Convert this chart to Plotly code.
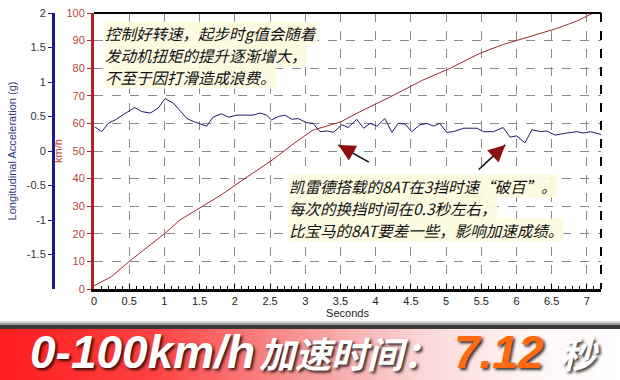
import plotly.graph_objects as go

# ---------------- data ----------------
time_speed = [0, 0.25, 0.5, 0.75, 1.0, 1.22, 1.5, 1.8, 2.14, 2.53, 2.8, 3.11, 3.3, 3.5,
              3.75, 4.2, 4.67, 5.06, 5.48, 5.8, 6.05, 6.3, 6.57, 6.85, 7.09]
speed_kmh = [1.2, 4.5, 10, 15, 20, 25, 29.5, 34, 40, 46.7, 52, 57.6, 59, 60.5,
             63.9, 69.5, 75.7, 80, 85.4, 88.5, 90.4, 92.3, 94.4, 97, 100]

time_g = [0.01, 0.11, 0.20, 0.30, 0.42, 0.58, 0.68, 0.80, 0.91, 1.01, 1.13, 1.32, 1.43,
          1.60, 1.69, 1.81, 1.91, 2.03, 2.26, 2.36, 2.45, 2.52, 2.62, 2.71, 2.81, 2.90,
          3.02, 3.11, 3.21, 3.31, 3.40, 3.52, 3.61, 3.73, 3.83, 3.92, 4.02, 4.13, 4.23,
          4.32, 4.42, 4.51, 4.63, 4.73, 4.82, 4.91, 5.01, 5.10, 5.25, 5.44, 5.53, 5.67,
          5.81, 5.91, 6.00, 6.12, 6.22, 6.34, 6.43, 6.55, 6.71, 6.86, 6.95, 7.05, 7.2]
accel_g = [0.35, 0.28, 0.40, 0.45, 0.53, 0.63, 0.57, 0.55, 0.62, 0.76, 0.69, 0.47, 0.42,
           0.36, 0.49, 0.54, 0.49, 0.52, 0.52, 0.55, 0.52, 0.45, 0.50, 0.52, 0.46, 0.47,
           0.41, 0.40, 0.28, 0.29, 0.27, 0.38, 0.34, 0.46, 0.33, 0.40, 0.36, 0.47, 0.27,
           0.40, 0.39, 0.28, 0.38, 0.40, 0.36, 0.40, 0.27, 0.28, 0.33, 0.33, 0.28, 0.28,
           0.34, 0.20, 0.22, 0.12, 0.31, 0.28, 0.29, 0.23, 0.26, 0.28, 0.26, 0.28, 0.24]

g_tickvals = [2, 1.5, 1, 0.5, 0, -0.5, -1, -1.5]
g_ticktext = ["2", "1.5", "1", "0.5", "0", "-0.5", "-1", "-1.5"]

note_top = ["控制好转速，起步时g值会随着", "发动机扭矩的提升逐渐增大，", "不至于因打滑造成浪费。"]
note_mid = ["凯雷德搭载的8AT在3挡时速“破百”。", "每次的换挡时间在0.3秒左右，",
            "比宝马的8AT要差一些，影响加速成绩。"]
banner_latin = "0-100km/h"
banner_cjk = "加速时间："
banner_value = "7.12"
banner_unit = "秒"

# ---------------- figure ----------------
W, H = 620, 380
def px(x):
    return x / W
def py(y):
    return 1 - y / H

fig = go.Figure()
fig.add_trace(go.Scatter(x=time_speed, y=speed_kmh, mode="lines",
                         line=dict(color="#9c2b2b", width=1), yaxis="y", hoverinfo="skip"))
fig.add_trace(go.Scatter(x=time_g, y=accel_g, mode="lines",
                         line=dict(color="#1c1c66", width=1), yaxis="y2", hoverinfo="skip"))

shapes = []
# banner gradient
stops = [(0.0, (255, 28, 28)), (0.25, (255, 66, 66)), (0.48, (246, 148, 148)),
         (0.68, (252, 214, 214)), (0.85, (255, 245, 245)), (1.0, (255, 255, 255))]
def col(t):
    for (a, ca), (b, cb) in zip(stops[:-1], stops[1:]):
        if a <= t <= b:
            f = (t - a) / (b - a)
            return "rgb(%d,%d,%d)" % tuple(round(ca[i] + (cb[i] - ca[i]) * f) for i in range(3))
    return "rgb(255,255,255)"
N = 124
for i in range(N):
    shapes.append(dict(type="rect", xref="paper", yref="paper", x0=i / N, x1=(i + 1) / N + 0.001,
                       y0=0, y1=py(329), fillcolor=col((i + 0.5) / N), line=dict(width=0)))
for y0, y1, c in [(321, 323, "#d8d8d8"), (323, 325, "#9a9a9a"), (325, 329, "#3a3a3a")]:
    shapes.append(dict(type="rect", xref="paper", yref="paper", x0=0, x1=1,
                       y0=py(y1), y1=py(y0), fillcolor=c, line=dict(width=0)))
# top and right border of plot
shapes.append(dict(type="line", xref="paper", yref="paper", x0=px(94), x1=px(601),
                   y0=py(13), y1=py(13), line=dict(color="black", width=2)))
shapes.append(dict(type="line", xref="paper", yref="paper", x0=px(601), x1=px(601),
                   y0=py(13), y1=py(289), line=dict(color="black", width=2, dash="dash")))

cjk = "Noto Sans CJK SC"
annotations = []
note_font = dict(family=cjk, size=15.5, color="#111111", style="italic")
note_bg = "rgba(253,251,224,0.92)"
for lines, x0, y0 in [(note_top, 104, 33), (note_mid, 288, 186)]:
    for k, line in enumerate(lines):
        annotations.append(dict(xref="paper", yref="paper", x=px(x0), y=py(y0 + k * 22),
                                xanchor="left", yanchor="middle", text=line, showarrow=False,
                                align="left", font=note_font, bgcolor=note_bg, borderpad=0))

shadow = "2px 2px 3px rgba(0,0,0,0.8)"
for txt, x0, size, color, fam in [
        (banner_latin, 28, 46, "white", "Liberation Sans"),
        (banner_cjk, 257, 36, "white", cjk),
        (banner_value, 452, 46, "#ff6a10", "Liberation Sans"),
        (banner_unit, 558, 36, "white", cjk)]:
    annotations.append(dict(xref="paper", yref="paper", x=px(x0), y=py(352),
                            xanchor="left", yanchor="middle", text=txt, showarrow=False,
                            font=dict(family=fam, size=size, color=color, weight="bold",
                                      style="italic", shadow=shadow)))

# arrows: black shaft + dark red head
for hx, hy, ax, ay in [(3.47, 52.2, 32, 18), (5.84, 52.2, -28, 26)]:
    annotations.append(dict(x=hx, y=hy, xref="x", yref="y", ax=ax, ay=ay, text="",
                            showarrow=True, arrowhead=0, arrowwidth=1.6, arrowcolor="#111111"))
    annotations.append(dict(x=hx, y=hy, xref="x", yref="y", ax=ax * 0.4, ay=ay * 0.4, text="",
                            showarrow=True, arrowhead=2, arrowsize=1.2, arrowwidth=2.8,
                            arrowcolor="#8b1010"))

tickfont = dict(family="Liberation Sans", size=11, color="#222222")
fig.update_layout(
    template="none", width=W, height=H, autosize=False,
    margin=dict(l=0, r=0, t=0, b=0),
    paper_bgcolor="white", plot_bgcolor="white", showlegend=False,
    font=dict(family="Liberation Sans", size=11, color="#222222"),
    xaxis=dict(domain=[px(94), px(601)], range=[0, 7.2], tick0=0, dtick=0.5,
               ticks="inside", ticklen=5, tickwidth=1, tickcolor="black",
               minor=dict(ticks="inside", dtick=0.1, ticklen=3, tickcolor="black", showgrid=False),
               showline=True, linecolor="black", linewidth=3,
               showgrid=True, gridcolor="#8a8a8a", griddash="dash", gridwidth=1,
               zeroline=False, tickfont=tickfont, automargin=False,
               title=dict(text="Seconds", font=dict(size=11, color="#222222"), standoff=4)),
    yaxis=dict(domain=[py(289), py(13)], range=[0, 100], dtick=10,
               ticks="outside", ticklen=4, tickcolor="#b03030",
               showline=True, linecolor="#b22222", linewidth=3,
               showgrid=True, gridcolor="#8a8a8a", griddash="dash", gridwidth=1,
               zeroline=False, automargin=False,
               tickfont=dict(family="Liberation Sans", size=11, color="#b5473a"),
               title=dict(text="km/h", font=dict(size=11, color="#c0392b"), standoff=2)),
    yaxis2=dict(overlaying="y", anchor="free", position=px(53), side="left",
                range=[-2, 2], tickvals=g_tickvals, ticktext=g_ticktext,
                ticks="outside", ticklen=4, tickcolor="#1a1a8c",
                showline=True, linecolor="#1a1a8c", linewidth=3,
                showgrid=False, zeroline=False, automargin=False,
                tickfont=dict(family="Liberation Sans", size=11, color="#333333"),
                title=dict(text="Longitudinal Acceleration (g)",
                           font=dict(size=11, color="#2d3a7a"), standoff=6)),
    shapes=shapes, annotations=annotations,
)

fig.write_html("out.html")
